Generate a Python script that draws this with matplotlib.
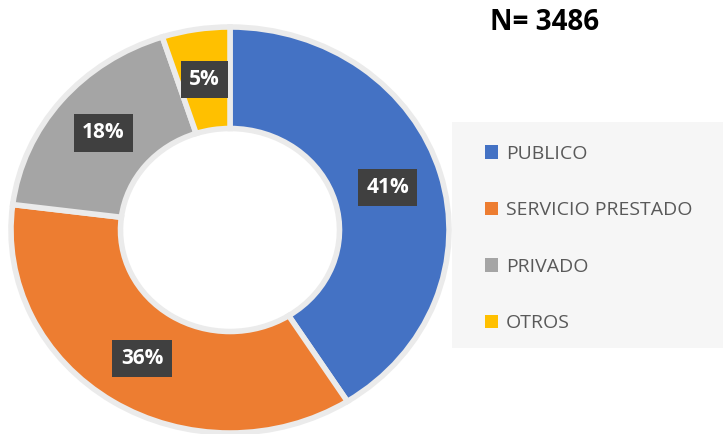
import matplotlib
matplotlib.use("Agg")
import matplotlib.pyplot as plt
from matplotlib.patches import Rectangle

categories = ["PUBLICO", "SERVICIO PRESTADO", "PRIVADO", "OTROS"]
values = [41, 36, 18, 5]
colors = ["#4472C4", "#ED7D31", "#A5A5A5", "#FFC000"]
title = "N= 3486"

plt.rcParams['font.family'] = ['Open Sans', 'DejaVu Sans']

fig = plt.figure(figsize=(7.23, 4.34), dpi=100)
ax = fig.add_axes([0, 0, 1, 1])

wedges, texts, autotexts = ax.pie(
    values, colors=colors, startangle=90, counterclock=False,
    radius=1.0, pctdistance=0.75,
    autopct=lambda p: f"{p:.0f}%",
    wedgeprops=dict(width=0.5, edgecolor="#ebebeb", linewidth=4),
    textprops=dict(color="white", fontsize=15, fontweight="bold"))

for t in autotexts:
    t.set_bbox(dict(boxstyle="square,pad=0.4", facecolor="#404040",
                    edgecolor="none"))

# stretch slightly wider than tall like the original
ax.set_aspect("auto")
ax.set_xlim(-230 / 219, (723 - 230) / 219)
ax.set_ylim(-204 / 203, (434 - 204) / 203)
ax.axis("off")

# legend background
fig.patches.append(Rectangle((452 / 723, 1 - 348 / 434), (723 - 452) / 723,
                             (348 - 122) / 434, transform=fig.transFigure,
                             facecolor="#F6F6F6", edgecolor="none", zorder=0))

leg = fig.legend(wedges, categories, loc="upper left",
                 bbox_to_anchor=(477 / 723, 1 - 137 / 434),
                 frameon=False, fontsize=14, handlelength=0.7,
                 handleheight=0.7, handletextpad=0.4, labelspacing=1.98,
                 borderaxespad=0)
for t in leg.get_texts():
    t.set_color("#595959")
for h in leg.legend_handles:
    h.set_edgecolor("none")

fig.text(490 / 723, 1 - 22 / 434, title, fontsize=20, fontweight="bold",
         va="center", ha="left", color="black")

fig.savefig("out.png", dpi=100)
